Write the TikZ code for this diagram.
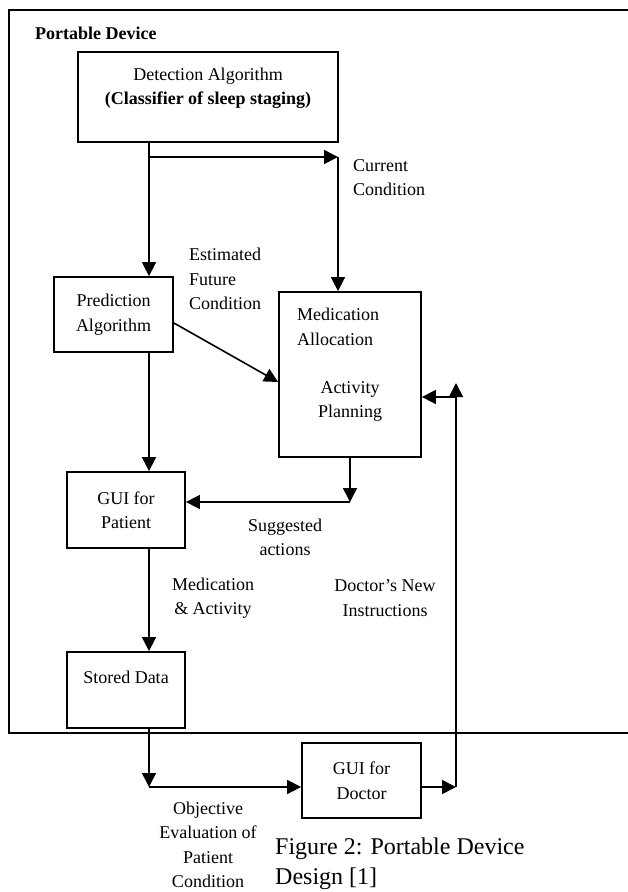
\documentclass[tikz,border=0pt]{standalone}
\usepackage{fontspec}
\setmainfont{Liberation Serif}
\usetikzlibrary{arrows.meta,positioning,calc}

\tikzset{
  blockbox/.style={draw, line width=1.8pt, align=center, inner sep=0pt},
  flow/.style={line width=1.6pt, -{Triangle[length=14pt,width=14pt]}},
  note/.style={align=center, inner sep=0pt},
}

\begin{document}
\begin{tikzpicture}[x=1pt, y=-1pt, font=\fontsize{18}{24.5}\selectfont]

\useasboundingbox (0,0) rectangle (628,892);

% ================= DEVICE FRAME =================
\draw[line width=2pt] (628,10) -- (9,10) -- (9,733) -- (628,733);
\node[anchor=west, inner sep=0pt, font=\fontsize{18}{24.5}\selectfont\bfseries] (devtitle) at (35,33) {Portable Device};

% ================= BLOCKS =================
\node[blockbox, minimum width=260pt, minimum height=90pt] (det) at (208,97) {};
\node[note] (dettext) at (208,88) {Detection Algorithm\\\textbf{(Classifier of sleep staging)}};

\node[blockbox, minimum width=119pt, minimum height=75pt] (pred) at (113.5,314.5) {Prediction\\Algorithm};

\node[blockbox, minimum width=142pt, minimum height=165pt] (med) at (350,374.5) {};
\node[note, align=left, anchor=west] (medtext) at (297,327) {Medication\\Allocation};
\node[note] (acttext) at (350,401.5) {Activity\\Planning};

\node[blockbox, minimum width=118pt, minimum height=76pt] (gpat) at (126,510) {GUI for\\Patient};

\node[blockbox, minimum width=118pt, minimum height=76pt] (store) at (126,690) {};
\node[note] (storetext) at (126,677) {Stored Data};

\node[blockbox, minimum width=119pt, minimum height=75pt] (gdoc) at (361.5,780.5) {GUI for\\Doctor};

% ================= JUNCTIONS =================
\coordinate (lane) at (149,157);
\coordinate (cur) at (338,157);
\coordinate (sug) at (350,502);
\coordinate (obj) at (149,787);
\coordinate (ret) at (456,787);
\coordinate (rettop) at (456,383);
\coordinate (retin) at (456,397);

% ================= CONNECTORS =================
\draw[flow] (lane |- det.south) -- (lane |- pred.north);
\draw[flow] (lane) -- (cur);
\draw[flow] (cur) -- (cur |- med.north);
\draw[flow] ([yshift=-8.5pt]pred.east) -- ([yshift=-7.5pt]med.west);
\draw[flow] (lane |- pred.south) -- (lane |- gpat.north);
\draw[flow] (med.south) -- (sug);
\draw[flow] (sug) -- (sug -| gpat.east);
\draw[flow] (lane |- gpat.south) -- (lane |- store.north);
\draw[flow] (lane |- store.south) -- (obj);
\draw[flow] (obj) -- (obj -| gdoc.west);
\draw[flow] (ret -| gdoc.east) -- (ret);
\draw[flow] (ret) -- (rettop);
\draw[flow] (retin) -- (retin -| med.east);

% ================= LABELS =================
\node[note, align=left, anchor=west] (curlbl) at (353,177.5) {Current\\Condition};
\node[note, align=left, anchor=west] (estlbl) at (189,279) {Estimated\\Future\\Condition};
\node[note] (suglbl) at (285,537.5) {Suggested\\actions};
\node[note] (actlbl) at (213,598) {Medication\\\& Activity};
\node[note] (newlbl) at (385,598) {Doctor's New\\Instructions};
\node[note] (objlbl) at (208,845) {Objective\\Evaluation of\\Patient\\Condition};

% ================= CAPTION =================
\node[note, align=left, anchor=west, font=\fontsize{24}{30}\selectfont] (caption) at (275,864) {Figure 2: Portable Device\\Design [1]};

\end{tikzpicture}
\end{document}
